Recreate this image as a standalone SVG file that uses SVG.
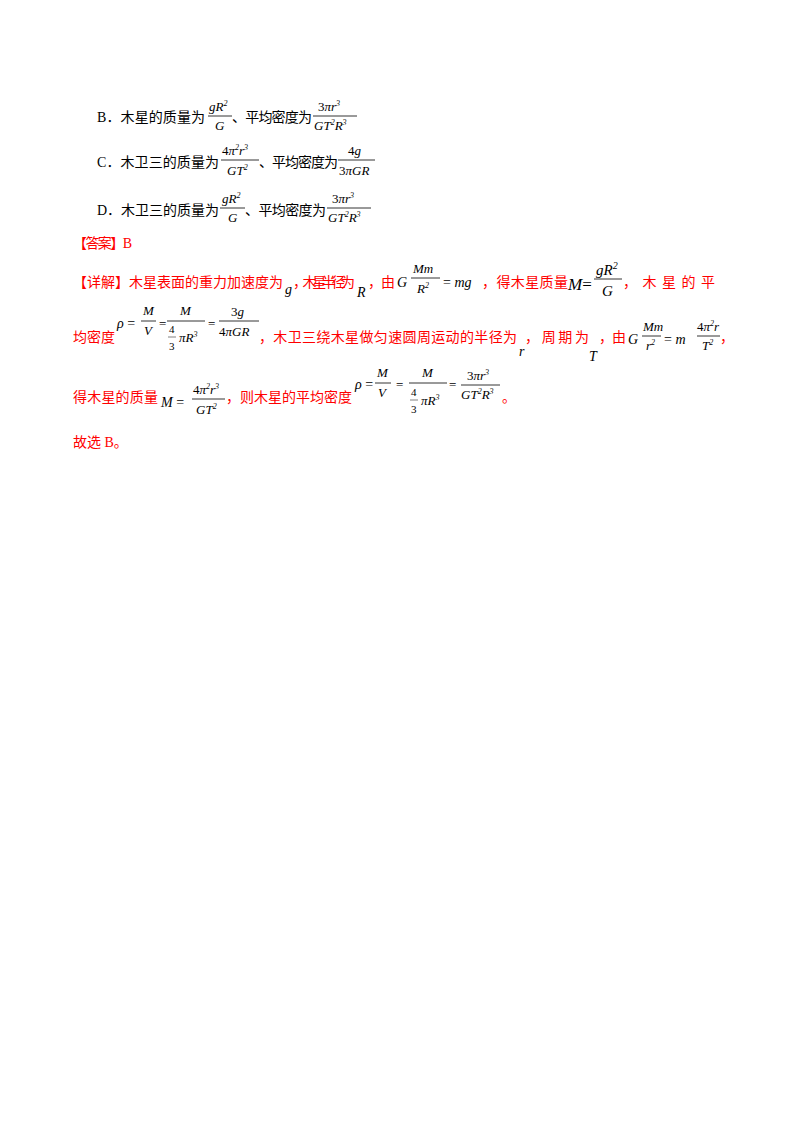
<svg xmlns="http://www.w3.org/2000/svg" width="800" height="1132" viewBox="0 0 800 1132">
<style>
.t{font-family:"Liberation Serif","Noto Sans CJK SC",serif;font-size:14px;fill:#000}
.r{fill:#f00}
.m{font-family:"Liberation Serif",serif;font-style:italic;font-size:14px;fill:#000}
.s{font-family:"Liberation Serif",serif;font-size:13px;fill:#000}
.f{font-family:"Liberation Serif",serif;font-style:italic;font-size:13px;fill:#000}
.p{font-size:8px}
line{stroke:#000;stroke-width:0.8}
</style>
<rect width="800" height="1132" fill="#fff"/>
<g id="optB">
<text class="t" x="97" y="122" textLength="108">B．木星的质量为</text>
<text class="f" x="209" y="111">gR<tspan class="p" dy="-5">2</tspan></text>
<line x1="208" y1="116" x2="232" y2="116"/>
<text class="f" x="215" y="130">G</text>
<text class="t" x="232" y="122" textLength="80">、平均密度为</text>
<text class="f" x="318" y="111"><tspan font-style="normal">3</tspan>πr<tspan class="p" dy="-5">3</tspan></text>
<line x1="313" y1="116" x2="357" y2="116"/>
<text class="f" x="314" y="130">GT<tspan class="p" dy="-5">2</tspan><tspan dy="5">R</tspan><tspan class="p" dy="-5">3</tspan></text>
</g>
<g id="optC">
<text class="t" x="97" y="167" textLength="122">C．木卫三的质量为</text>
<text class="f" x="222" y="155"><tspan font-style="normal">4</tspan>π<tspan class="p" dy="-5">2</tspan><tspan dy="5">r</tspan><tspan class="p" dy="-5">3</tspan></text>
<line x1="221" y1="160" x2="259" y2="160"/>
<text class="f" x="227" y="175">GT<tspan class="p" dy="-5">2</tspan></text>
<text class="t" x="259" y="167" textLength="79">、平均密度为</text>
<text class="f" x="348" y="155"><tspan font-style="normal">4</tspan>g</text>
<line x1="338" y1="160" x2="375" y2="160"/>
<text class="f" x="339" y="175"><tspan font-style="normal">3</tspan>πGR</text>
</g>
<g id="optD">
<text class="t" x="97" y="215" textLength="122">D．木卫三的质量为</text>
<text class="f" x="222" y="203">gR<tspan class="p" dy="-5">2</tspan></text>
<line x1="220" y1="208" x2="245" y2="208"/>
<text class="f" x="228" y="222">G</text>
<text class="t" x="245" y="215" textLength="81">、平均密度为</text>
<text class="f" x="332" y="203"><tspan font-style="normal">3</tspan>πr<tspan class="p" dy="-5">3</tspan></text>
<line x1="327" y1="208" x2="371" y2="208"/>
<text class="f" x="328" y="222">GT<tspan class="p" dy="-5">2</tspan><tspan dy="5">R</tspan><tspan class="p" dy="-5">3</tspan></text>
</g>
<g id="answer">
<text class="t r" x="73" y="248" textLength="59">【答案】B</text>
</g>
<g id="detail1">
<text class="t r" x="73" y="287" textLength="210">【详解】木星表面的重力加速度为</text>
<text class="m" x="285" y="294">g</text>
<text class="t r" x="293" y="287" textLength="62">，木星半径为</text>
<text class="m" x="357" y="297">R</text>
<text class="t r" x="368" y="287" textLength="27">，由</text>
<text class="m" x="397" y="287">G</text>
<text class="f" x="413" y="273">Mm</text>
<line x1="411" y1="278" x2="440" y2="278"/>
<text class="f" x="417" y="293">R<tspan class="p" dy="-5">2</tspan></text>
<text class="m" x="443" y="287"><tspan font-style="normal">= </tspan>mg</text>
<text class="t r" x="482" y="287" textLength="86">，得木星质量</text>
<text class="m" x="568" y="290" style="font-size:17px">M<tspan font-style="normal">=</tspan></text>
<text class="m" x="596" y="275" style="font-size:15px">gR<tspan dy="-6" style="font-size:10px">2</tspan></text>
<line x1="594" y1="279" x2="622" y2="279"/>
<text class="m" x="602" y="296" style="font-size:15px">G</text>
<text class="t r" x="623" y="287" textLength="92">，木星的平</text>
</g>
<g id="detail2">
<text class="t r" x="73" y="342" textLength="42">均密度</text>
<text class="m" x="117" y="328">ρ<tspan font-style="normal"> =</tspan></text>
<text class="f" x="143" y="315">M</text>
<line x1="141" y1="321" x2="156" y2="321"/>
<text class="f" x="144" y="335">V</text>
<text class="s" x="159" y="328">=</text>
<text class="f" x="180" y="315">M</text>
<line x1="167" y1="321" x2="205" y2="321"/>
<text class="s" x="169" y="333" style="font-size:11px">4</text>
<line x1="168" y1="337" x2="176" y2="337" style="stroke-width:0.5"/>
<text class="s" x="169" y="350" style="font-size:11px">3</text>
<text class="f" x="179" y="342">πR<tspan class="p" dy="-5">3</tspan></text>
<text class="s" x="208" y="328">=</text>
<text class="s" x="231" y="316">3<tspan font-style="italic">g</tspan></text>
<line x1="219" y1="321" x2="259" y2="321"/>
<text class="f" x="219" y="336"><tspan font-style="normal">4</tspan>πGR</text>
<text class="t r" x="259" y="342" textLength="258">，木卫三绕木星做匀速圆周运动的半径为</text>
<text class="m" x="519" y="356">r</text>
<text class="t r" x="525" y="342" textLength="64">，周期为</text>
<text class="m" x="589" y="361">T</text>
<text class="t r" x="599" y="342" textLength="27">，由</text>
<text class="m" x="628" y="344">G</text>
<text class="f" x="643" y="331">Mm</text>
<line x1="642" y1="336" x2="661" y2="336"/>
<text class="f" x="646" y="350">r<tspan class="p" dy="-5">2</tspan></text>
<text class="m" x="664" y="344"><tspan font-style="normal">= </tspan>m</text>
<text class="f" x="697" y="331"><tspan font-style="normal">4</tspan>π<tspan class="p" dy="-5">2</tspan><tspan dy="5">r</tspan></text>
<line x1="697" y1="336" x2="720" y2="336"/>
<text class="f" x="702" y="350">T<tspan class="p" dy="-5">2</tspan></text>
<text class="t r" x="720" y="342">，</text>
</g>
<g id="detail3">
<text class="t r" x="73" y="402" textLength="85">得木星的质量</text>
<text class="m" x="161" y="407">M<tspan font-style="normal"> =</tspan></text>
<text class="f" x="193" y="394"><tspan font-style="normal">4</tspan>π<tspan class="p" dy="-5">2</tspan><tspan dy="5">r</tspan><tspan class="p" dy="-5">3</tspan></text>
<line x1="192" y1="399" x2="225" y2="399"/>
<text class="f" x="196" y="414">GT<tspan class="p" dy="-5">2</tspan></text>
<text class="t r" x="226" y="402" textLength="126">，则木星的平均密度</text>
<text class="m" x="355" y="389">ρ<tspan font-style="normal"> =</tspan></text>
<text class="f" x="377" y="377">M</text>
<line x1="375" y1="383" x2="391" y2="383"/>
<text class="f" x="378" y="397">V</text>
<text class="s" x="396" y="389">=</text>
<text class="f" x="422" y="377">M</text>
<line x1="409" y1="383" x2="447" y2="383"/>
<text class="s" x="411" y="396" style="font-size:11px">4</text>
<line x1="410" y1="400" x2="418" y2="400" style="stroke-width:0.5"/>
<text class="s" x="411" y="413" style="font-size:11px">3</text>
<text class="f" x="421" y="405">πR<tspan class="p" dy="-5">3</tspan></text>
<text class="s" x="449" y="389">=</text>
<text class="f" x="467" y="380"><tspan font-style="normal">3</tspan>πr<tspan class="p" dy="-5">3</tspan></text>
<line x1="461" y1="385" x2="500" y2="385"/>
<text class="f" x="461" y="399">GT<tspan class="p" dy="-5">2</tspan><tspan dy="5">R</tspan><tspan class="p" dy="-5">3</tspan></text>
<text class="t r" x="502" y="402">。</text>
</g>
<g id="final">
<text class="t r" x="73" y="447">故选 B。</text>
</g>
</svg>
